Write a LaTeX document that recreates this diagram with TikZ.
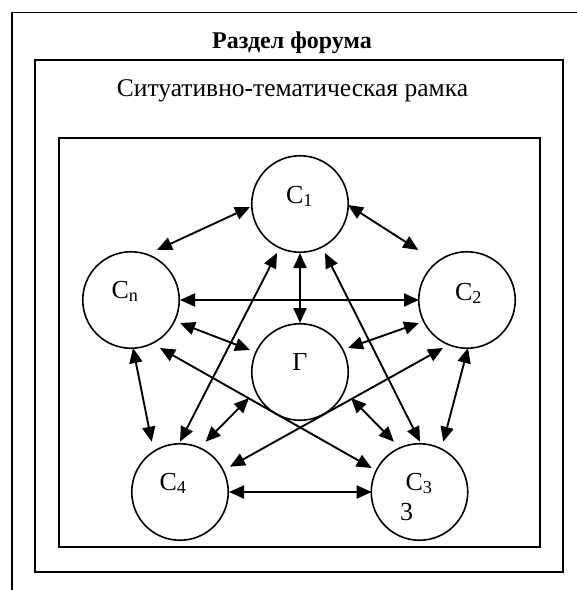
\documentclass[tikz,border=0pt]{standalone}
\usepackage{fontspec}
\setmainfont{Liberation Serif}
\usetikzlibrary{arrows.meta,calc}
\tikzset{
  agent/.style={circle,draw,line width=1.6pt,minimum size=96.5pt,inner sep=0pt},
  lbl/.style={anchor=base,inner sep=0pt,font=\fontsize{26}{31}\selectfont},
  link/.style={line width=1.9pt,{Triangle[length=15pt,width=13pt]}-{Triangle[length=15pt,width=13pt]}},
}
\begin{document}
\begin{tikzpicture}[x=1pt,y=-1pt]
\useasboundingbox (0,0) rectangle (577,590);
% frames
\coordinate (obl) at (11.7,590);
\coordinate (otl) at (11.7,12.3);
\coordinate (otr) at (577,12.3);
\draw[line width=1.6pt] (obl) -- (otl) -- (otr);
\node[draw,line width=2.3pt,minimum width=528pt,minimum height=512pt,inner sep=0pt] (mid) at (299,316) {};
\node[draw,line width=1.2pt,minimum width=481pt,minimum height=409pt,inner sep=0pt] (inner) at (299.5,342.5) {};
\node[anchor=base,inner sep=0pt,font=\fontsize{24}{29}\selectfont\bfseries] (title) at (292,48) {Раздел форума};
\node[anchor=base,inner sep=0pt,font=\fontsize{25.5}{30}\selectfont] (frame) at (292.5,96) {Ситуативно-тематическая рамка};
% agents
\node[agent] (C1) at (300,204) {};
\node[agent] (Cn) at (131,300) {};
\node[agent] (C2) at (467,300) {};
\node[agent] (G) at (300,372) {};
\node[agent] (C4) at (180,492) {};
\node[agent] (C3) at (419.5,492) {};
% labels
\node[lbl] (lC1) at (299.5,203) {C\textsubscript{1}};
\node[lbl] (lCn) at (125,298) {C\textsubscript{n}};
\node[lbl] (lC2) at (468.5,300) {C\textsubscript{2}};
\node[lbl] (lG) at (300,370.7) {Г};
\node[lbl] (lC4) at (173,490) {C\textsubscript{4}};
\node[lbl] (lC3) at (419,490) {C\textsubscript{3}};
\node[lbl] (l3) at (406.7,520) {3};
% links
\draw[link] ($(C1)+(-50,3)$) -- ($(Cn)+(26,-50)$);
\draw[link] ($(C1)+(48,1)$) -- ($(C2)+(-48.7,-50)$);
\draw[link] ($(Cn)+(49,0)$) -- ($(C2)+(-48,0)$);
\draw[link] ($(C1)+(0,49)$) -- ($(G)+(0,-49)$);
\draw[link] ($(Cn)+(49,23)$) -- ($(G)+(-50,-22)$);
\draw[link] ($(C2)+(-48,23)$) -- ($(G)+(48,-24)$);
\draw[link] ($(Cn)+(2,48)$) -- ($(C4)+(-28.3,-50.3)$);
\draw[link] ($(C1)+(-23,49)$) -- ($(C4)+(0,-50.3)$);
\draw[link] ($(G)+(-51,26)$) -- ($(C4)+(25.6,-50.3)$);
\draw[link] ($(C2)+(-24,48)$) -- ($(C4)+(50,-25.3)$);
\draw[link] ($(C4)+(49,0)$) -- ($(C3)+(-47.8,0)$);
\draw[link] ($(Cn)+(29,48)$) -- ($(C3)+(-47.8,-24)$);
\draw[link] ($(G)+(51,26)$) -- ($(C3)+(-25.6,-50.3)$);
\draw[link] ($(C1)+(25,49)$) -- ($(C3)+(0.5,-50.3)$);
\draw[link] ($(C2)+(1,48)$) -- ($(C3)+(23.8,-50.3)$);
\end{tikzpicture}
\end{document}
